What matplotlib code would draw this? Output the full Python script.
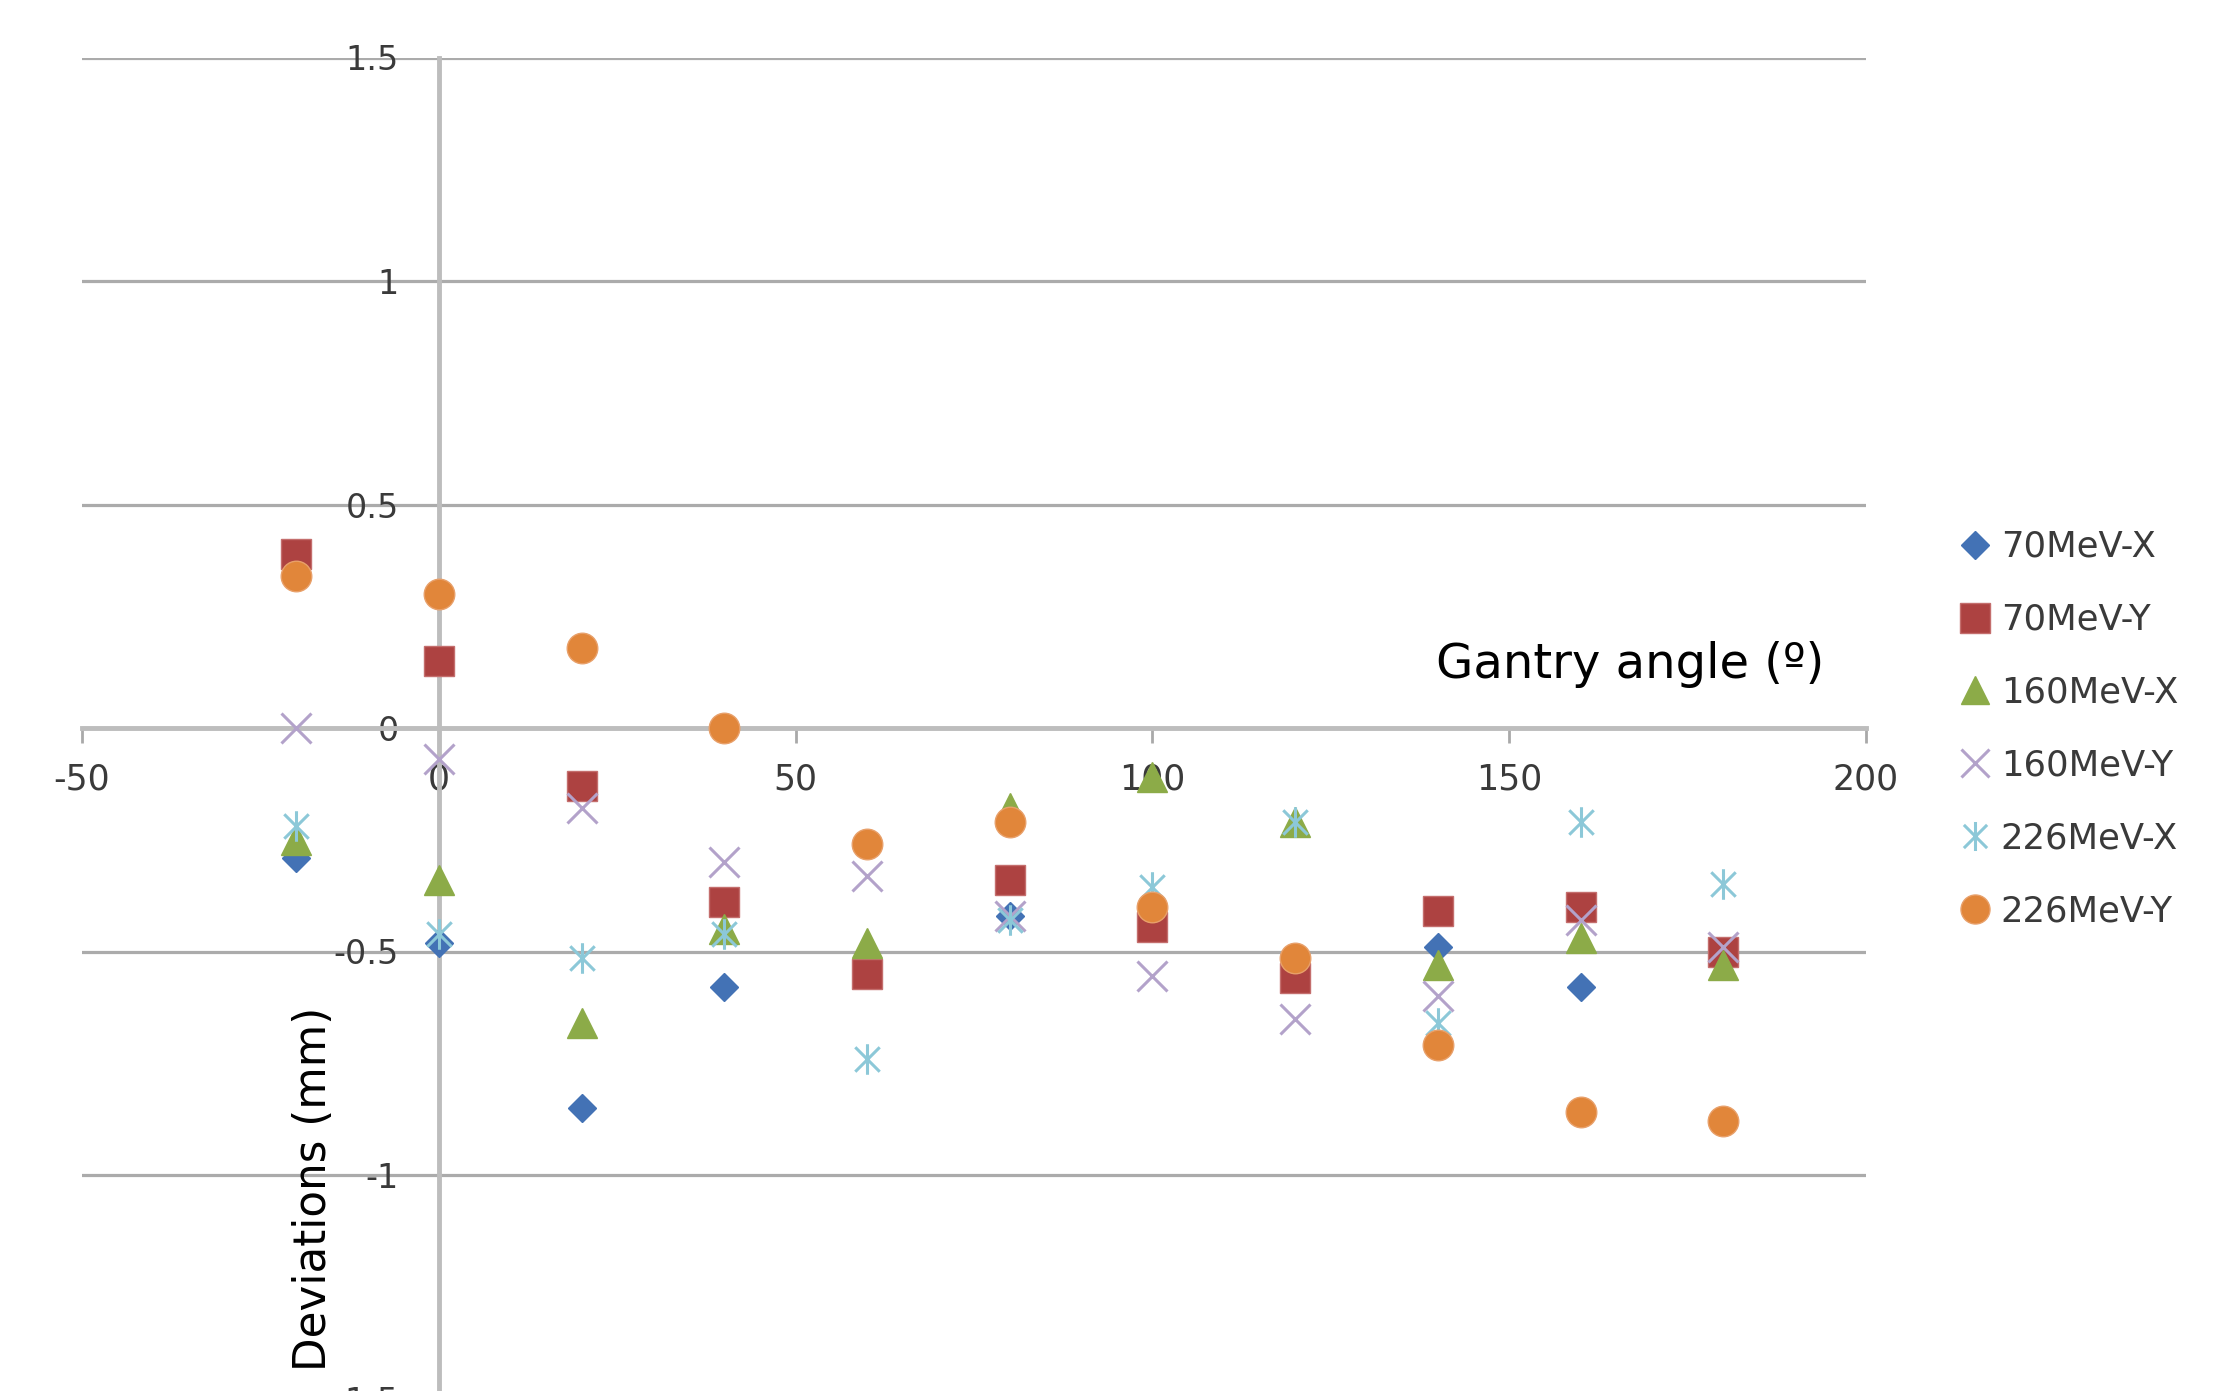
import numpy as np
import matplotlib
matplotlib.use("Agg")
import matplotlib.pyplot as plt
from matplotlib.path import Path

angles = [-20, 0, 20, 40, 60, 80, 100, 120, 140, 160, 180]
dev_70x = [-0.29, -0.48, -0.85, -0.58, -0.55, -0.42, -0.42, -0.53, -0.49, -0.58, -0.52]
dev_70y = [0.39, 0.15, -0.13, -0.39, -0.55, -0.34, -0.445, -0.56, -0.41, -0.40, -0.50]
dev_160x = [-0.25, -0.34, -0.66, -0.45, -0.48, -0.18, -0.11, -0.21, -0.53, -0.47, -0.53]
dev_160y = [0.00, -0.07, -0.18, -0.30, -0.33, -0.42, -0.555, -0.65, -0.60, -0.43, -0.49]
dev_226x = [-0.22, -0.46, -0.515, -0.46, -0.74, -0.43, -0.355, -0.21, -0.66, -0.21, -0.35]
dev_226y = [0.34, 0.30, 0.18, 0.00, -0.26, -0.21, -0.40, -0.515, -0.71, -0.86, -0.88]
labels = ["70MeV-X", "70MeV-Y", "160MeV-X", "160MeV-Y", "226MeV-X", "226MeV-Y"]

xticks = [-50, 0, 50, 100, 150, 200]
xticklabels = ["-50", "0", "50", "100", "150", "200"]
yticks = [-1.5, -1.0, -0.5, 0.0, 0.5, 1.0, 1.5]
yticklabels = ["-1.5", "-1", "-0.5", "0", "0.5", "1", "1.5"]

# excel-like "star" marker: an x with a vertical bar
star = Path([(-1, -1), (1, 1), (-1, 1), (1, -1), (0, -1.25), (0, 1.25)],
            [Path.MOVETO, Path.LINETO] * 3)

styles = [
    dict(marker="D", ms=14.5, color="#4372B5", mfc="#4372B5", mec="#4372B5", mew=1),
    dict(marker="s", ms=22, color="#AD4241", mfc="#AD4241", mec="#C46E6D", mew=1),
    dict(marker="^", ms=21, color="#8CAB48", mfc="#8CAB48", mec="#8CAB48", mew=1),
    dict(marker="x", ms=21, color="#B3A2CA", mew=2.2),
    dict(marker=star, ms=22, color="#8CC8D8", mfc="none", mew=2.2),
    dict(marker="o", ms=22, color="#E1863A", mfc="#E1863A", mec="#E8A06A", mew=1),
]

fig = plt.figure(figsize=(22.25, 13.91), dpi=100)
ax = fig.add_axes([82 / 2225, -7.5 / 1391, 1784 / 2225, 1341 / 1391])

series = [dev_70x, dev_70y, dev_160x, dev_160y, dev_226x, dev_226y]
for vals, lab, st in zip(series, labels, styles):
    ax.plot(angles, vals, ls="none", label=lab, zorder=3, clip_on=False, **st)

ax.set_xlim(-50, 200)
ax.set_ylim(-1.5, 1.5)

for s in ("top", "right"):
    ax.spines[s].set_visible(False)
ax.spines["left"].set_position(("data", 0))
ax.spines["bottom"].set_position(("data", 0))
for s in ("left", "bottom"):
    ax.spines[s].set_color("#BDBDBD")
    ax.spines[s].set_linewidth(3.5)
    ax.spines[s].set_zorder(2.5)

ax.set_xticks(xticks)
ax.set_xticklabels(xticklabels)
ax.set_yticks(yticks)
ax.set_yticklabels(yticklabels)
ax.tick_params(axis="x", direction="out", length=11, width=2, color="#A9A9A9",
               pad=14, labelsize=25, labelcolor="#3a3a3a")
ax.tick_params(axis="y", length=0, pad=29, labelsize=24, labelcolor="#3a3a3a")

ax.yaxis.grid(True, color="#ABABAB", lw=2.3)
ax.xaxis.grid(False)
ax.set_axisbelow(True)

ax.text(139.7, 0.111, "Gantry angle (º)", fontsize=34.6, ha="left", va="baseline",
        color="black")
ax.text(-17.5, -1.438, "Deviations (mm)", fontsize=31.4, rotation=90,
        ha="center", va="bottom", color="black")

fig.legend(loc="upper left", bbox_to_anchor=(1960 / 2225, 0.619), frameon=False,
           fontsize=25.5, numpoints=1, handlelength=0.85, handletextpad=0.3,
           labelspacing=1.1, borderpad=0, borderaxespad=0, markerscale=0.95,
           labelcolor="#3a3a3a")

fig.savefig("out.png", dpi=100)
